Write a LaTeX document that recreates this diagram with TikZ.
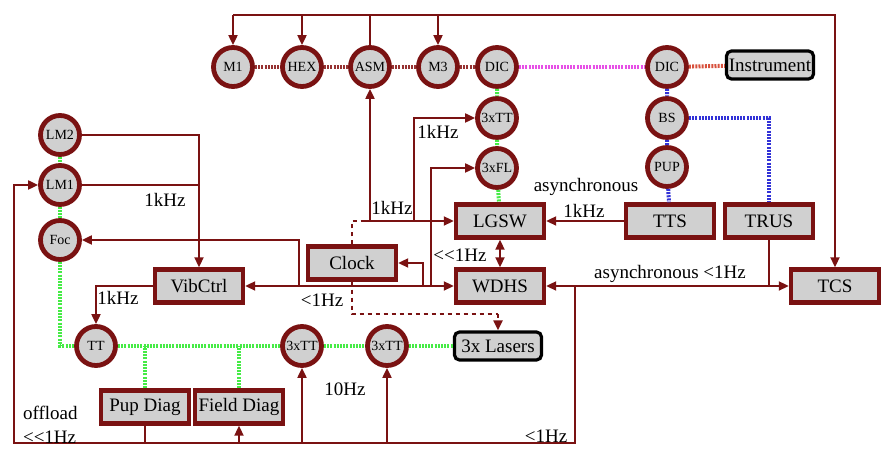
\documentclass[tikz,border=0pt]{standalone}
\usepackage{fontspec}
\setmainfont{Liberation Serif}
\usetikzlibrary{arrows.meta}
\definecolor{dred}{RGB}{122,18,18}
\definecolor{lgray}{RGB}{208,208,208}
\definecolor{beamred}{RGB}{150,50,50}
\definecolor{lgreen}{RGB}{70,235,70}
\definecolor{mgnt}{RGB}{230,80,230}
\definecolor{dblue}{RGB}{50,50,215}
\definecolor{ored}{RGB}{215,80,60}

\begin{document}
\begin{tikzpicture}[x=0.5pt,y=-0.5pt,>={Triangle[length=5pt,width=4.5pt]}]
    \tikzstyle{every node}=[font=\fontsize{9.5}{11}\selectfont]
    \tikzstyle{blk}=[draw=dred,fill=lgray,line width=2.2pt,minimum width=44pt,minimum height=16.5pt,inner sep=0pt]
    \tikzstyle{opt}=[circle,draw=dred,fill=lgray,line width=2.4pt,minimum size=19.5pt,inner sep=0pt,font=\fontsize{7}{8}\selectfont]
    \tikzstyle{ext}=[draw=black,fill=lgray,line width=1.6pt,rounded corners=2.5pt,minimum width=43.5pt,minimum height=14pt,inner sep=0pt]
    \tikzstyle{sig}=[draw=dred,line width=1pt]
    \tikzstyle{beam}=[line width=2pt,dash pattern=on 1pt off 0.6pt]
    \useasboundingbox (0,0) rectangle (891,459);
    % optics
    \node[opt] (m1) at (233,67) {M1};
    \node[opt] (hex) at (302,67) {HEX};
    \node[opt] (asm) at (370,67) {ASM};
    \node[opt] (m3) at (438,67) {M3};
    \node[opt] (dic) at (497,67) {DIC};
    \node[opt] (dicb) at (667,67) {DIC};
    \node[ext] (instr) at (770,65) {Instrument};
    \node[opt] (tta) at (497,118) {3xTT};
    \node[opt] (fl) at (497,168) {3xFL};
    \node[opt] (bs) at (667,118) {BS};
    \node[opt] (pup) at (667,167) {PUP};
    \node[opt] (lm2) at (60,135) {LM2};
    \node[opt] (lm1) at (60,185) {LM1};
    \node[opt] (foc) at (60,240) {Foc};
    \node[opt] (tt) at (96,346) {TT};
    \node[opt] (ttb) at (302,346) {3xTT};
    \node[opt] (ttc) at (387,346) {3xTT};
    \node[ext] (lasers) at (498,346) {3x Lasers};
    % control boxes
    \node[blk] (lgsw) at (500,221) {LGSW};
    \node[blk] (wdhs) at (500,286) {WDHS};
    \node[blk] (tts) at (670,221) {TTS};
    \node[blk] (trus) at (769,221) {TRUS};
    \node[blk] (tcs) at (835,286) {TCS};
    \node[blk] (clock) at (352,263) {Clock};
    \node[blk] (vib) at (199,286) {VibCtrl};
    \node[blk] (pupd) at (145,407) {Pup Diag};
    \node[blk] (fieldd) at (239,407) {Field Diag};
    % light paths
    \draw[beam,beamred] (m1) -- (hex) -- (asm) -- (m3) -- (dic);
    \draw[beam,mgnt] (dic) -- (dicb);
    \draw[beam,ored] (dicb) -- (instr);
    \draw[beam,lgreen] (dic) -- (tta) -- (fl) -- (lgsw);
    \draw[beam,lgreen] (lm2) -- (lm1) -- (foc) |- (tt);
    \draw[beam,lgreen] (tt) -- (ttb) -- (ttc) -- (lasers);
    \draw[beam,lgreen] (pupd) -- (pupd.north |- tt);
    \draw[beam,lgreen] (fieldd) -- (fieldd.north |- tt);
    \draw[beam,dblue] (dicb) -- (bs) -- (pup) -- (tts);
    \draw[beam,dblue] (bs) -| (trus);
    % top bus
    \coordinate (top) at (0,15);
    \draw[sig,->] (asm) -- (asm |- top) -| (tcs);
    \draw[sig] (m1 |- top) -- (asm |- top);
    \foreach \n in {m1,hex,m3} \draw[sig,->] (\n |- top) -- (\n);
    % loops
    \draw[sig,->] (lm2) -| (vib);
    \draw[sig] (lm1) -- (lm1 -| vib);
    \draw (165,200) node {1kHz};
    \draw[sig,<->] (vib) -- (wdhs);
    \draw[sig,->] (299,286) |- (foc);
    \draw[sig,->] (423,286) |- (clock);
    \draw[sig,->] (431,286) |- (fl);
    \draw (322,300) node {<1Hz};
    \draw[sig,->] (vib) -| (tt);
    \draw (118,298) node {1kHz};
    \coordinate (cj) at (363,221);
    \draw[sig,->] (cj) -- (lgsw);
    \draw[sig,->] (asm |- lgsw) -- (asm);
    \draw[sig,->] (414,221) |- (tta);
    \draw (392,208) node {1kHz};
    \draw (438,132) node {1kHz};
    \draw[sig,dash pattern=on 2pt off 2pt] (clock) |- (cj);
    \coordinate (dl) at (352,314);
    \coordinate (dr) at (498,314);
    \draw[sig,dash pattern=on 2pt off 2pt] (clock.south) -- (dl) -- (dr);
    \draw[sig,dash pattern=on 2pt off 2pt,->] (dr) -- (lasers.north);
    \draw[sig,->] (tts) -- (lgsw);
    \draw (586,187) node {asynchronous};
    \draw (584,211) node {1kHz};
    \draw[sig,<->] (lgsw) -- (wdhs);
    \draw (460,255) node {{<}{<}1Hz};
    \draw[sig,<->] (wdhs) -- (tcs);
    \draw (670,274) node {asynchronous <1Hz};
    \draw[sig] (trus) -- (trus |- tcs);
    % offload bus
    \coordinate (br) at (575,443);
    \coordinate (bl) at (14,443);
    \draw[sig,->] (575,286) -- (br) -- (bl) |- (lm1);
    \draw[sig] (pupd) -- (pupd |- bl);
    \foreach \n in {fieldd,ttb,ttc} \draw[sig,->] (\n |- bl) -- (\n);
    \draw (345,389) node {10Hz};
    \draw (546,436) node {<1Hz};
    \draw (16,413) node[anchor=west] {offload};
    \draw (16,437) node[anchor=west] {{<}{<}1Hz};
  \end{tikzpicture}
\end{document}
